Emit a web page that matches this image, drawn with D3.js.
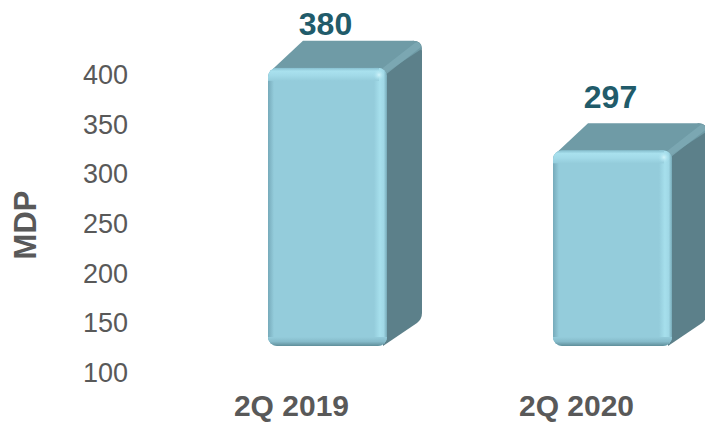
<!DOCTYPE html>
<html>
<head>
<meta charset="utf-8">
<script src="https://cdn.jsdelivr.net/npm/d3@7"></script>
<style>
  html, body { margin: 0; padding: 0; background: #ffffff; }
  svg { display: block; font-family: "Liberation Sans", Arial, sans-serif; }
</style>
</head>
<body>
<svg id="chart" width="705" height="424"></svg>
<script>
// Quarterly totals (MDP)
const categories = ["2Q 2019", "2Q 2020"];
const values = [380, 297];
const valueLabels = ["380", "297"];
const yTicks = [100, 150, 200, 250, 300, 350, 400];
const axisTitle = "MDP";

const W = 705, H = 424;
const svg = d3.select("#chart");
const defs = svg.append("defs");

// Value axis (labels only, no line)
const y = d3.scaleLinear().domain([100, 400]).range([373, 75]);
// Bars sit on the 3D floor, which is lifted above the axis baseline
const floorLift = 27;
const yBar = v => y(v) - floorLift;
// Data labels float in the receding plane above the bars
const yLabel = d3.scaleLinear().domain([100, 400]).range([281, 17]);

const x = d3.scaleBand().domain(categories)
  .range([211, 729]).paddingInner(0.5825).paddingOuter(0.2);

const depth = { dx: 35, dy: -27 };

// Shared gradients for bevel strips
function grad(id, x2, y2, stops) {
  const g = defs.append("linearGradient").attr("id", id)
    .attr("x1", 0).attr("y1", 0).attr("x2", x2).attr("y2", y2);
  stops.forEach(([o, c]) => g.append("stop").attr("offset", o).attr("stop-color", c));
}
grad("bevTop", 0, 1, [[0, "#86BFCF"], [0.25, "#A9E1EE"], [0.6, "#A2DAE8"], [1, "#94CCDB"]]);
grad("bevRight", 1, 0, [[0, "#94CCDB"], [0.45, "#A6DFEC"], [0.75, "#A0D8E6"], [1, "#76A9B7"]]);
grad("bevLeft", 1, 0, [[0, "#76AABA"], [1, "#94CCDB"]]);
grad("bevBottom", 0, 1, [[0, "#94CCDB"], [0.5, "#86BBCA"], [1, "#5F8E9A"]]);
const hl = defs.append("radialGradient").attr("id", "spot");
hl.append("stop").attr("offset", 0).attr("stop-color", "#D4F6FC").attr("stop-opacity", 0.95);
hl.append("stop").attr("offset", 1).attr("stop-color", "#A9E1EE").attr("stop-opacity", 0);

const bars = svg.append("g");

categories.forEach((c, i) => {
  const x0 = x(c), x1 = x0 + x.bandwidth();
  const yT = yBar(values[i]), yB = yBar(100);
  const { dx, dy } = depth;
  const g = bars.append("g");

  // Side face
  g.append("path")
    .attr("d", `M${x1 - 4},${yT} L${x1 + dx - 9},${yT + dy} Q${x1 + dx},${yT + dy} ${x1 + dx},${yT + dy + 10}
                L${x1 + dx},${yB + dy - 6} Q${x1 + dx},${yB + dy} ${x1 + dx - 5},${yB + dy + 4} L${x1 - 4},${yB} Z`)
    .attr("fill", "#5C808A");
  // Top face
  g.append("path")
    .attr("d", `M${x0 + 4},${yT + 2} L${x0 + dx},${yT + dy} L${x1 + dx - 9},${yT + dy}
                Q${x1 + dx},${yT + dy} ${x1 + dx},${yT + dy + 8} L${x1},${yT + 4} Z`)
    .attr("fill", "#6F9BA6");
  // Rounded ridge between top and side faces
  g.append("line")
    .attr("x1", x1 - 2).attr("y1", yT + 3)
    .attr("x2", x1 + dx - 5).attr("y2", yT + dy + 5)
    .attr("stroke", "#7EABB6").attr("stroke-width", 7).attr("stroke-linecap", "round")
    .attr("opacity", 0.8);

  // Front face with bevels
  const clipId = "front" + i;
  defs.append("clipPath").attr("id", clipId)
    .append("rect").attr("x", x0).attr("y", yT).attr("width", x1 - x0).attr("height", yB - yT)
    .attr("rx", 9).attr("ry", 9);
  const f = g.append("g").attr("clip-path", `url(#${clipId})`);
  f.append("rect").attr("x", x0).attr("y", yT).attr("width", x1 - x0).attr("height", yB - yT)
    .attr("fill", "#94CCDB");
  f.append("rect").attr("x", x0).attr("y", yT + 2).attr("width", 6).attr("height", yB - yT - 4)
    .attr("fill", "url(#bevLeft)");
  f.append("rect").attr("x", x1 - 13).attr("y", yT).attr("width", 13).attr("height", yB - yT)
    .attr("fill", "url(#bevRight)");
  f.append("rect").attr("x", x0).attr("y", yB - 9).attr("width", x1 - x0).attr("height", 9)
    .attr("fill", "url(#bevBottom)");
  f.append("rect").attr("x", x0).attr("y", yT).attr("width", x1 - x0 - 8).attr("height", 13)
    .attr("fill", "url(#bevTop)");
  f.append("ellipse").attr("cx", x1 - 8).attr("cy", yT + 7).attr("rx", 6).attr("ry", 6)
    .attr("fill", "url(#spot)");

  // Value label
  svg.append("text")
    .attr("x", x0 + x.bandwidth() / 2 - 2)
    .attr("y", yLabel(values[i]))
    .attr("text-anchor", "middle")
    .attr("font-size", 32).attr("font-weight", "bold")
    .attr("fill", "#215B6A")
    .text(valueLabels[i]);

  // Category label
  svg.append("text")
    .attr("x", x0 + x.bandwidth() / 2 - 36)
    .attr("y", 416)
    .attr("text-anchor", "middle")
    .attr("font-size", 30).attr("font-weight", "bold")
    .attr("fill", "#595959")
    .text(c);
});

// Value axis
const axis = svg.append("g").attr("transform", "translate(128,0)")
  .call(d3.axisLeft(y).tickValues(yTicks).tickSize(0).tickPadding(0).tickFormat(d3.format("d")));
axis.select(".domain").remove();
axis.selectAll("text")
  .attr("font-size", 27)
  .attr("font-family", "'Liberation Sans', Arial, sans-serif")
  .attr("fill", "#595959");

// Axis title
svg.append("text")
  .attr("transform", "translate(36,225) rotate(-90)")
  .attr("text-anchor", "middle")
  .attr("font-size", 31).attr("font-weight", "bold")
  .attr("fill", "#595959")
  .text(axisTitle);
</script>
</body>
</html>
